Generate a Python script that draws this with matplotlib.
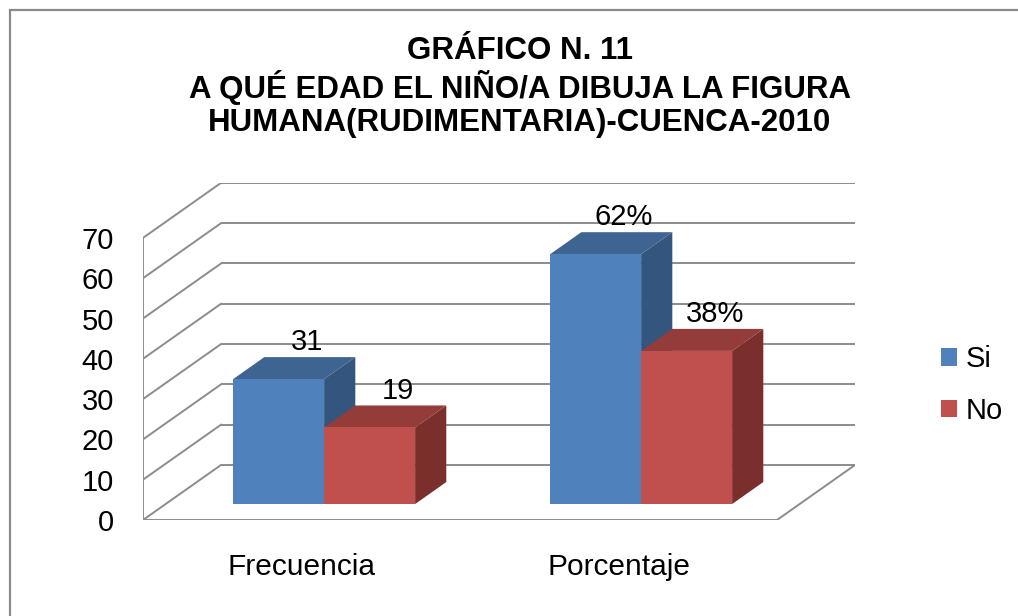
import matplotlib
matplotlib.use("Agg")
import matplotlib.pyplot as plt
from matplotlib.patches import Polygon, Patch, Rectangle

plt.rcParams['font.family'] = ['Liberation Sans', 'DejaVu Sans']

# ---- data ----
categories = ["Frecuencia", "Porcentaje"]
series_names = ["Si", "No"]
si_values = [31, 62]
no_values = [19, 38]
si_labels = ["31", "62%"]
no_labels = ["19", "38%"]
yticks = [0, 10, 20, 30, 40, 50, 60, 70]
title = "GRÁFICO N. 11\nA QUÉ EDAD EL NIÑO/A DIBUJA LA FIGURA\nHUMANA(RUDIMENTARIA)-CUENCA-2010"

# ---- style ----
colors = {
    "Si": ("#4F81BD", "#3E6592", "#34557E"),   # front, top, side
    "No": ("#C0504D", "#933C3A", "#7A2F2D"),
}
grid_color = "#8C8C8C"

W_PX, H_PX, DPI = 1018, 616, 100
fig = plt.figure(figsize=(W_PX / DPI, H_PX / DPI), dpi=DPI)
fig.patch.set_facecolor("white")

# oblique depth offsets (in data units)
DX = 0.246      # x shift of back wall (category units)
DY = 13.65      # y shift of back wall (value units)
YMAX = 70
BAR_W = 0.287
D0, D1 = 0.29, 0.69   # bar front / back depth fraction

# axes placement (pixels)
left_px, right_px = 143, 855
bottom_px = 520
px_per_unit = 4.03
top_px = bottom_px - (YMAX + DY) * px_per_unit
ax = fig.add_axes([left_px / W_PX, 1 - bottom_px / H_PX,
                   (right_px - left_px) / W_PX, (bottom_px - top_px) / H_PX])
ax.set_xlim(-0.5, 1.5 + DX)
ax.set_ylim(0, YMAX + DY)
for s in ax.spines.values():
    s.set_visible(False)


def P(x, v, d):
    return (x + d * DX, v + d * DY)


xmin, xmax = -0.5, 1.5
lw = 1.4
# back-wall gridlines and left-wall diagonals
for t in yticks:
    (x0, y0), (x1, y1) = P(xmin, t, 1), P(xmax, t, 1)
    ax.plot([x0, x1], [y0, y1], color=grid_color, lw=lw, zorder=1, solid_capstyle='butt')
    (a0, b0), (a1, b1) = P(xmin, t, 0), P(xmin, t, 1)
    ax.plot([a0, a1], [b0, b1], color=grid_color, lw=lw, zorder=1)
# front-left vertical
(a0, b0), (a1, b1) = P(xmin, 0, 0), P(xmin, YMAX, 0)
ax.plot([a0, a1], [b0, b1], color=grid_color, lw=lw, zorder=1)
# floor front and right edges
(a0, b0), (a1, b1) = P(xmin, 0, 0), P(xmax, 0, 0)
ax.plot([a0, a1], [b0, b1], color=grid_color, lw=lw, zorder=1)
(a0, b0), (a1, b1) = P(xmax, 0, 0), P(xmax, 0, 1)
ax.plot([a0, a1], [b0, b1], color=grid_color, lw=lw, zorder=1)

# bars
z = 3
for si, name, vals, labs in [(0, "Si", si_values, si_labels), (1, "No", no_values, no_labels)]:
    front, top, side = colors[name]
    for ci, v in enumerate(vals):
        xl = ci + (si - 1) * BAR_W
        xr = xl + BAR_W
        fx, fy = P(xl, 0, D0)
        ax.bar(fx, v, width=BAR_W, bottom=fy, align='edge', color=front,
               edgecolor='none', zorder=z + 2)
        side_poly = [P(xr, 0, D0), P(xr, 0, D1), P(xr, v, D1), P(xr, v, D0)]
        top_poly = [P(xl, v, D0), P(xr, v, D0), P(xr, v, D1), P(xl, v, D1)]
        ax.add_patch(Polygon(side_poly, closed=True, facecolor=side, edgecolor='none', zorder=z))
        ax.add_patch(Polygon(top_poly, closed=True, facecolor=top, edgecolor='none', zorder=z + 1))
        lx, ly = P((xl + xr) / 2, v, D1)
        ax.annotate(labs[ci], (lx, ly), xytext=(-2, 5), textcoords='offset points',
                    ha='center', va='baseline', fontsize=21, color='black', zorder=20)
    z += 3

# ticks
ax.set_yticks(yticks)
ax.set_yticklabels([str(t) for t in yticks])
ax.set_xticks([0, 1])
ax.set_xticklabels(categories)
ax.tick_params(axis='y', length=0, pad=21, labelsize=21)
ax.tick_params(axis='x', length=0, pad=24, labelsize=21.5)

# title
fig.text(520 / W_PX, 1 - 87 / H_PX, title, ha='center', va='center',
         fontsize=22.5, fontweight='bold', linespacing=1.12)

# legend
handles = [Patch(facecolor=colors[n][0], edgecolor='none') for n in series_names]
fig.legend(handles, series_names, loc='center left',
           bbox_to_anchor=(941 / W_PX, 1 - 385 / H_PX), frameon=False,
           fontsize=21, handlelength=0.55, handleheight=0.55,
           handletextpad=0.3, borderpad=0, borderaxespad=0, labelspacing=0.8)

# outer chart border (only left and top visible)
fig.patches.append(Rectangle((10 / W_PX, -0.1), 1.2, 1 - 10 / H_PX + 0.1,
                             transform=fig.transFigure, fill=False,
                             edgecolor='#8A8A8A', lw=1.6, zorder=0))

fig.savefig("out.png", dpi=DPI)
